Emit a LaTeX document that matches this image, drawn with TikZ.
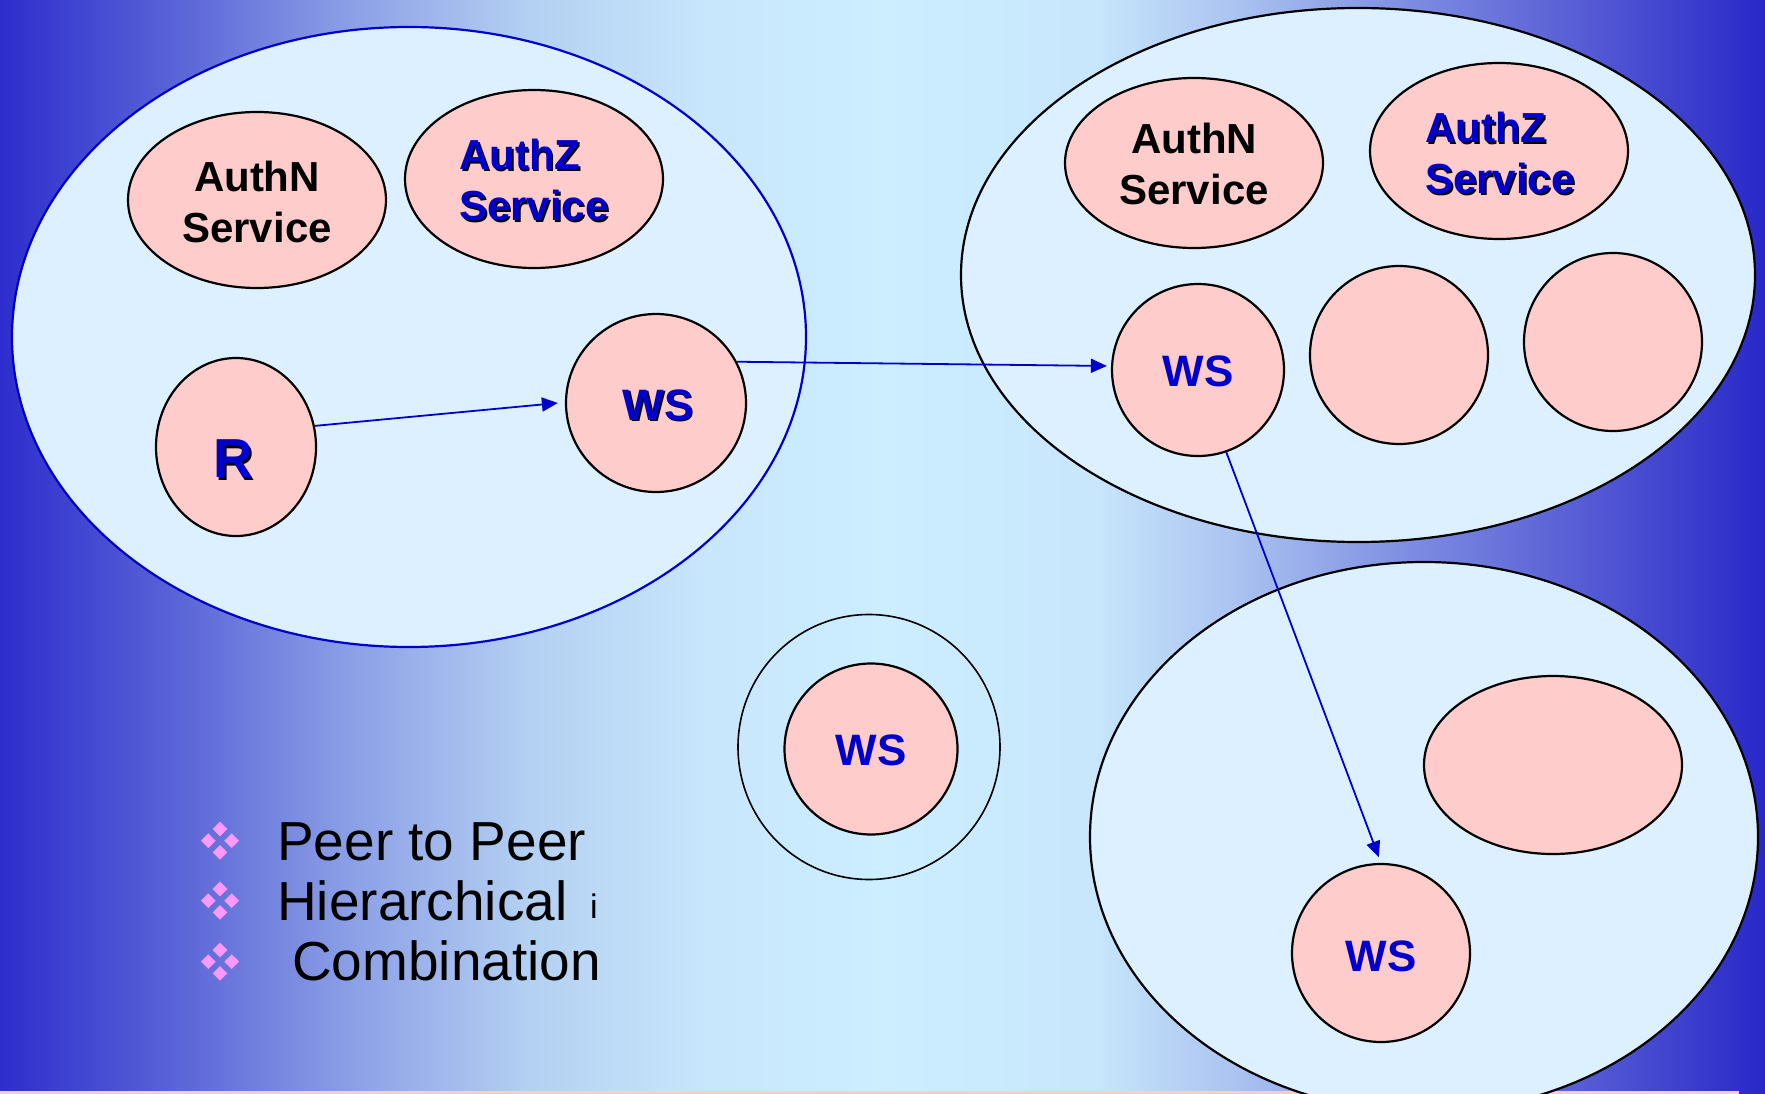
\documentclass[tikz,border=0pt]{standalone}
\usepackage{fontspec}
\setmainfont{Liberation Sans}
\usetikzlibrary{arrows.meta,shapes.geometric}
\definecolor{bga}{RGB}{45,45,205}
\definecolor{bgb}{RGB}{90,100,215}
\definecolor{bgc}{RGB}{140,160,230}
\definecolor{bgd}{RGB}{180,208,242}
\definecolor{bge}{RGB}{200,230,252}
\definecolor{bgf}{RGB}{204,238,255}
\definecolor{bgg}{RGB}{200,230,252}
\definecolor{bgh}{RGB}{170,195,240}
\definecolor{bgi}{RGB}{125,140,225}
\definecolor{bgj}{RGB}{85,90,212}
\definecolor{bgk}{RGB}{40,40,200}
\definecolor{zonefill}{RGB}{221,240,255}
\definecolor{pinkfill}{RGB}{255,204,204}
\definecolor{txtblue}{RGB}{0,0,204}
\definecolor{bulletpink}{RGB}{255,153,255}
\pgfdeclarehorizontalshading{bgshade}{100bp}{color(0bp)=(bga); color(25bp)=(bga); color(30bp)=(bgb); color(35bp)=(bgc); color(40bp)=(bgd); color(45bp)=(bge); color(50bp)=(bgf); color(56bp)=(bgg); color(60bp)=(bgh); color(65bp)=(bgi); color(70bp)=(bgj); color(75bp)=(bgk); color(100bp)=(bgk)}
\begin{document}
\begin{tikzpicture}[x=1pt,y=-1pt,
  zone/.style={ellipse, draw=black, line width=2.2pt, fill=zonefill, inner sep=0pt},
  svc/.style={ellipse, draw=black, line width=2.2pt, fill=pinkfill, inner sep=0pt},
  lbl/.style={font=\fontsize{42}{51}\selectfont\bfseries, inner sep=0pt},
  wslbl/.style={font=\fontsize{44}{51}\selectfont\bfseries, inner sep=0pt},
  rlbl/.style={font=\fontsize{55}{60}\selectfont\bfseries, inner sep=0pt},
  arr/.style={draw=txtblue, line width=1.8pt, -{Triangle[length=16pt,width=14pt]}},
  bultxt/.style={font=\fontsize{55}{60}\selectfont, inner sep=0pt, anchor=base west, text=black}]
\useasboundingbox (0,0) rectangle (1765,1094);
\shade[shading=bgshade] (0,0) rectangle (1765,1094);
\fill[pinkfill] (0,1091) rectangle (1739,1094);

% zones
\node[zone, draw=txtblue, minimum width=794pt, minimum height=620pt] (zoneL) at (409,337) {};
\node[zone, minimum width=794pt, minimum height=534pt] (zoneR) at (1358,275) {};
\node[zone, minimum width=668pt, minimum height=550pt] (zoneB) at (1424,837) {};
\node[ellipse, draw=black, line width=1.6pt, inner sep=0pt, minimum width=262pt, minimum height=265pt] (zoneM) at (869,747) {};

% services left
\node[svc, minimum width=258pt, minimum height=176pt] (authNL) at (257,200) {};
\node[svc, minimum width=258pt, minimum height=178pt] (authZL) at (534,179) {};
\node[svc, minimum width=160pt, minimum height=178pt] (R) at (236,447) {};
\node[svc, minimum width=180pt, minimum height=178pt] (WSL) at (656,403) {};

% services right
\node[svc, minimum width=258pt, minimum height=170pt] (authNR) at (1194,163) {};
\node[svc, minimum width=258pt, minimum height=176pt] (authZR) at (1499,151) {};
\node[svc, minimum width=172pt, minimum height=172pt] (WSR) at (1198,370) {};
\node[svc, minimum width=178pt, minimum height=178pt] (C2) at (1399,355) {};
\node[svc, minimum width=178pt, minimum height=178pt] (C3) at (1613,342) {};

% services bottom
\node[svc, minimum width=258pt, minimum height=178pt] (E4) at (1553,765) {};
\node[svc, minimum width=178pt, minimum height=178pt] (WSB) at (1381,953) {};

% middle
\node[svc, minimum width=173pt, minimum height=171pt] (WSM) at (871,749) {};

% labels
\node[lbl, align=center] (tAuthNL) at (257,202) {AuthN\\Service};
\node[lbl, text=black, align=left, anchor=west] (sAuthZL) at (460.8,181.8) {AuthZ\\Service};
\node[lbl, text=txtblue, align=left, anchor=west] (tAuthZL) at (459,180) {AuthZ\\Service};
\node[rlbl, text=black] (sR) at (235.2,461.2) {R};
\node[rlbl, text=txtblue] (tR) at (233,459) {R};
\node[wslbl, text=black] (sWSL) at (659.8,406.8) {WS};
\node[wslbl, text=txtblue] (tWSL) at (658,405) {WS};

\node[lbl, align=center] (tAuthNR) at (1194,164) {AuthN\\Service};
\node[lbl, text=black, align=left, anchor=west] (sAuthZR) at (1426.8,154.8) {AuthZ\\Service};
\node[lbl, text=txtblue, align=left, anchor=west] (tAuthZR) at (1425,153) {AuthZ\\Service};
\node[wslbl, text=txtblue] (tWSR) at (1198,371) {WS};
\node[wslbl, text=txtblue] (tWSM) at (871,750) {WS};
\node[wslbl, text=txtblue] (tWSB) at (1381,956) {WS};

% arrows
\draw[arr] (R.15) -- ([xshift=-7pt]WSL.west);
\draw[arr, shorten >=4pt] (WSL.27) -- ([yshift=4pt]WSR.west);
\draw[arr, shorten >=6pt] (WSR.-71) -- (WSB.north);

% bullets
\foreach \cy in {840.7,900.7,961.7}{
  \foreach \dx/\dy in {0/-11.7, -11.7/0, 11.7/0, 0/11.7}{
    \fill[bulletpink] (220+\dx,\cy+\dy-7.3) -- (220+\dx+7.3,\cy+\dy) -- (220+\dx,\cy+\dy+7.3) -- (220+\dx-7.3,\cy+\dy) -- cycle;
  }
}
\node[bultxt] (b1) at (277,860) {Peer to Peer};
\node[bultxt] (b2) at (277,920) {Hierarchical};
\node[font=\fontsize{34}{36}\selectfont, inner sep=0pt, anchor=base west] (b2i) at (590,918) {i};
\node[bultxt] (b3) at (292,980) {Combination};
\end{tikzpicture}
\end{document}
